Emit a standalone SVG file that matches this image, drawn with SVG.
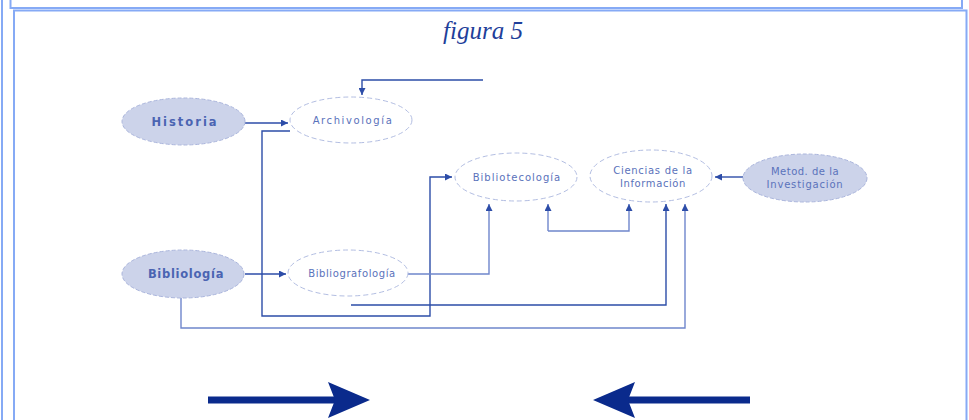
<svg xmlns="http://www.w3.org/2000/svg" width="969" height="420" viewBox="0 0 969 420">
<style>
.frame{fill:none;stroke:#86aaf5;stroke-width:2}
.filled{fill:#ccd3ea;stroke:#aab5dc;stroke-width:1;stroke-dasharray:4 2}
.outline{fill:#fff;stroke:#b3bee2;stroke-width:1;stroke-dasharray:5 3}
.nt{font-family:"DejaVu Sans","Liberation Sans",sans-serif;fill:#4560b0;text-anchor:middle}
.bold{font-size:11.5px;font-weight:bold;fill:#4a64b2}
.thin{font-size:10px;fill:#5a72bb}
.con{fill:none;stroke:#2d4da8;stroke-width:1.4}
.con2{fill:none;stroke:#6f86cc;stroke-width:1.4}
.big{fill:none;stroke:#0a2a8c;stroke-width:7}
</style>
<defs>
<marker id="ah" viewBox="0 0 10 10" refX="10" refY="5" markerWidth="7" markerHeight="7" markerUnits="userSpaceOnUse" orient="auto">
<path d="M0,0 L10,5 L0,10 z" fill="#2d4da8"/>
</marker>
</defs>
<rect width="969" height="420" fill="#fff"/>
<g id="frame">
<line class="frame" x1="2" y1="0" x2="2" y2="420"/>
<polyline class="frame" points="10.5,0 10.5,8 962,8 962,0"/>
<polyline class="frame" points="14,420 14,10.5 966.5,10.5 966.5,420"/>
</g>
<text x="483" y="39" font-family="'Liberation Serif',serif" font-style="italic" font-size="25" fill="#1f3f9a" text-anchor="middle">figura 5</text>
<g id="connectors">
<polyline class="con" points="483,80 362,80 362,95" marker-end="url(#ah)"/>
<polyline class="con" points="245,123 288,123" marker-end="url(#ah)"/>
<polyline class="con" points="290,131 262,131 262,316 430,316 430,177 452,177" marker-end="url(#ah)"/>
<polyline class="con" points="245,274 286,274" marker-end="url(#ah)"/>
<polyline class="con2" points="408,274 489,274 489,204" marker-end="url(#ah)"/>
<polyline class="con2" points="548,231 548,204" marker-end="url(#ah)"/>
<polyline class="con2" points="548,231 629,231 629,204" marker-end="url(#ah)"/>
<polyline class="con" points="351,305 666,305 666,204" marker-end="url(#ah)"/>
<polyline class="con2" points="181,298 181,328 685,328 685,204" marker-end="url(#ah)"/>
<polyline class="con" points="743,177 715,177" marker-end="url(#ah)"/>
</g>
<g id="historia">
<ellipse class="filled" cx="183.5" cy="121.5" rx="61.5" ry="23.5"/>
<text class="nt bold" x="185" y="126" letter-spacing="2">Historia</text>
</g>
<g id="archivologia">
<ellipse class="outline" cx="351" cy="120" rx="61" ry="23"/>
<text class="nt thin" x="353" y="124" letter-spacing="1.6">Archivología</text>
</g>
<g id="bibliotecologia">
<ellipse class="outline" cx="516" cy="177" rx="61" ry="24"/>
<text class="nt thin" x="517" y="181" letter-spacing="1">Bibliotecología</text>
</g>
<g id="ciencias">
<ellipse class="outline" cx="651" cy="176" rx="61" ry="26"/>
<text class="nt thin" x="653" y="174" letter-spacing="0.7">Ciencias de la</text>
<text class="nt thin" x="653" y="187" letter-spacing="0.6">Información</text>
</g>
<g id="metod">
<ellipse class="filled" cx="805" cy="178" rx="62" ry="24"/>
<text class="nt thin" x="805" y="175" letter-spacing="0.5">Metod. de la</text>
<text class="nt thin" x="805" y="188" letter-spacing="0.8">Investigación</text>
</g>
<g id="bibliologia">
<ellipse class="filled" cx="183" cy="274" rx="61" ry="24"/>
<text class="nt bold" x="186" y="278" letter-spacing="0.7">Bibliología</text>
</g>
<g id="bibliografologia">
<ellipse class="outline" cx="348" cy="273" rx="60" ry="23"/>
<text class="nt thin" x="352" y="277" letter-spacing="0.6">Bibliografología</text>
</g>
<g id="big-arrows">
<line class="big" x1="208" y1="400" x2="336" y2="400"/>
<polygon points="328,382 370,400 328,418 335,400" fill="#0a2a8c"/>
<line class="big" x1="626" y1="400" x2="750" y2="400"/>
<polygon points="635,382 593,400 635,418 628,400" fill="#0a2a8c"/>
</g>
</svg>
